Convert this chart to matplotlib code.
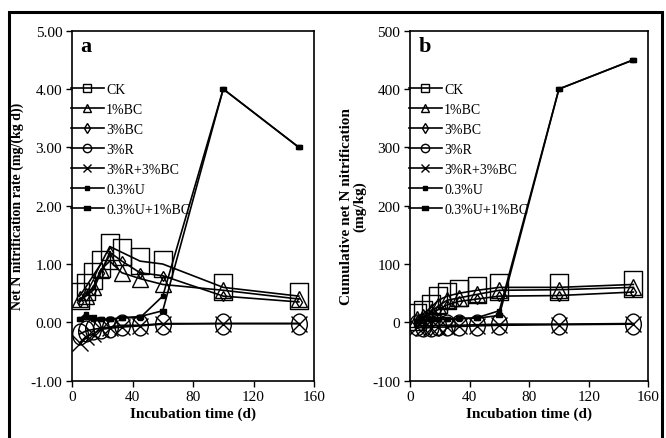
import numpy as np
import matplotlib
matplotlib.use('Agg')
import matplotlib.pyplot as plt
from matplotlib.path import Path
from matplotlib.lines import Line2D
from matplotlib.patches import Rectangle

plt.rcParams['font.family'] = ['Liberation Serif', 'DejaVu Serif']

# sampling days
days = [5, 9, 14, 19, 25, 33, 45, 60, 100, 150]

labels = ['CK', '1%BC', '3%BC', '3%R', '3%R+3%BC', '0.3%U', '0.3%U+1%BC']

# (a) net N nitrification rate, mg/(kg d)
rate_ck = [0.45, 0.6, 0.8, 1.0, 1.3, 1.2, 1.05, 1.0, 0.6, 0.45]
rate_bc1 = [0.4, 0.45, 0.6, 0.9, 1.05, 0.85, 0.75, 0.65, 0.55, 0.4]
rate_bc3 = [0.35, 0.45, 0.55, 0.85, 1.2, 1.05, 0.85, 0.8, 0.45, 0.35]
rate_r3 = [-0.2, -0.15, -0.12, -0.1, -0.08, -0.05, -0.05, -0.02, -0.02, -0.02]
rate_r3bc3 = [-0.35, -0.25, -0.2, -0.12, -0.1, -0.08, -0.06, -0.03, -0.02, -0.02]
rate_u = [0.05, 0.15, 0.05, 0.05, 0.05, 0.08, 0.08, 0.45, 4.0, 3.0]
rate_ubc = [0.05, 0.1, 0.1, 0.05, 0.05, 0.08, 0.1, 0.2, 4.0, 3.0]

# (b) cumulative net N nitrification, mg/kg
cum_ck = [10, 15, 25, 38, 45, 50, 55, 60, 60, 65]
cum_bc1 = [5, 10, 18, 28, 38, 42, 48, 55, 56, 60]
cum_bc3 = [3, 8, 14, 22, 30, 36, 40, 45, 46, 52]
cum_r3 = [-5, -6, -6, -5, -5, -5, -4, -3, -3, -2]
cum_r3bc3 = [-8, -9, -9, -8, -8, -7, -6, -5, -4, -3]
cum_u = [2, 3, 4, 5, 5, 6, 8, 20, 400, 450]
cum_ubc = [2, 3, 5, 5, 6, 7, 7, 12, 400, 450]

# tall rectangle and tall ellipse markers
rect = Path([(-0.33, -0.5), (0.33, -0.5), (0.33, 0.5), (-0.33, 0.5), (-0.33, -0.5)],
            [Path.MOVETO, Path.LINETO, Path.LINETO, Path.LINETO, Path.CLOSEPOLY])
circ = Path.unit_circle()
ell = Path(circ.vertices * np.array([0.75, 1.0]), circ.codes)
small_rect = Path([(-0.5, -0.3), (0.5, -0.3), (0.5, 0.3), (-0.5, 0.3), (-0.5, -0.3)],
                  [Path.MOVETO, Path.LINETO, Path.LINETO, Path.LINETO, Path.CLOSEPOLY])

# marker, size in plot, fill, legend marker, legend size, legend fill
styles = [
    (rect, 19, 'none', 's', 6, 'none'),
    ('^', 12, 'none', '^', 6, 'none'),
    ('d', 5, 'none', 'd', 5, 'none'),
    (ell, 15, 'none', 'o', 6, 'none'),
    ('x', 11, 'none', 'x', 6, 'none'),
    ('s', 3, 'black', 's', 3, 'black'),
    (small_rect, 5, 'black', small_rect, 5, 'black'),
]

fig = plt.figure(figsize=(6.66, 4.39), dpi=100)

fig.patches.append(Rectangle((9 / 666, -0.05), 653 / 666, 1.05 - 13 / 439,
                             transform=fig.transFigure, fill=False,
                             edgecolor='black', linewidth=2.2))


def panel(ax, series, ylim, yticks, ytick_fmt, letter):
    for ys, st in zip(series, styles):
        ax.plot(days, ys, color='black', linewidth=1.2, marker=st[0],
                markersize=st[1], markerfacecolor=st[2], markeredgecolor='black',
                markeredgewidth=1.0)
    ax.set_xlim(0, 160)
    ax.set_ylim(*ylim)
    ax.set_xticks([0, 40, 80, 120, 160])
    ax.set_yticks(yticks)
    ax.set_yticklabels([ytick_fmt.format(v) for v in yticks])
    ax.tick_params(direction='out', length=4, width=1, labelsize=11, pad=3)
    for sp in ax.spines.values():
        sp.set_linewidth(1.2)
    ax.set_xlabel('Incubation time (d)', fontsize=11, fontweight='bold', labelpad=2)
    ax.text(0.035, 0.985, letter, transform=ax.transAxes, fontsize=16,
            fontweight='bold', va='top')
    handles = [Line2D([0], [0], color='black', linewidth=1.2, marker=st[3],
                      markersize=st[4], markerfacecolor=st[5],
                      markeredgecolor='black', markeredgewidth=1.0)
               for st in styles]
    ax.legend(handles, labels, loc='upper left', bbox_to_anchor=(-0.005, 0.85),
              frameon=False, fontsize=10, handlelength=2.4, handletextpad=0.15,
              labelspacing=0.5, borderaxespad=0, borderpad=0)


ax1 = fig.add_axes([0.1081, 0.1305, 0.3634, 0.7973])
panel(ax1, [rate_ck, rate_bc1, rate_bc3, rate_r3, rate_r3bc3, rate_u, rate_ubc],
      (-1, 5), [-1, 0, 1, 2, 3, 4, 5], '{:.2f}', 'a')
ax1.set_ylabel('Net N nitrification rate (mg/(kg d))', fontsize=10,
               fontweight='bold', labelpad=5)

ax2 = fig.add_axes([0.6156, 0.1305, 0.3578, 0.7973])
panel(ax2, [cum_ck, cum_bc1, cum_bc3, cum_r3, cum_r3bc3, cum_u, cum_ubc],
      (-100, 500), [-100, 0, 100, 200, 300, 400, 500], '{:d}', 'b')
ax2.set_ylabel('Cumulative net N nitrification\n(mg/kg)', fontsize=11,
               fontweight='bold', labelpad=4, linespacing=1.0)

fig.savefig('out.png', dpi=100)
